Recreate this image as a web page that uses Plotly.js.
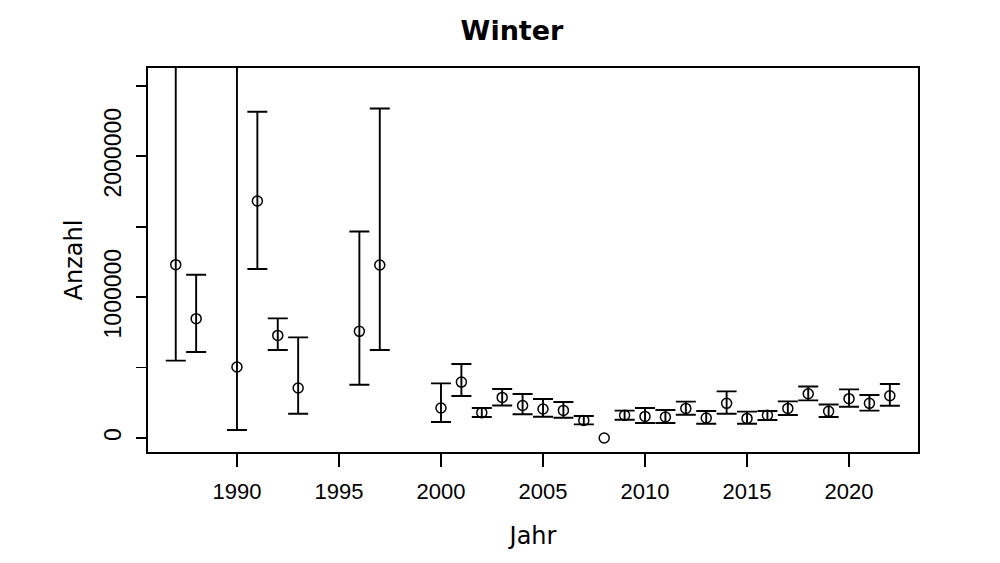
<!DOCTYPE html>
<html>
<head>
<meta charset="utf-8">
<script src="https://cdn.plot.ly/plotly-3.0.1.min.js"></script>
<style>html,body{margin:0;padding:0;background:#fff;}#chart{width:1000px;height:563px;}</style>
</head>
<body>
<div id="chart"></div>
<script>
// Data (Anzahl per winter)
const years = [1987,1988,1990,1991,1992,1993,1996,1997,2000,2001,2002,2003,2004,2005,2006,2007,2008,2009,2010,2011,2012,2013,2014,2015,2016,2017,2018,2019,2020,2021,2022];
const values = [1230000,847000,504000,1682000,728000,355000,757000,1228000,213000,397000,180000,288000,231000,206000,196000,125000,0,161000,153000,149000,210000,142000,246000,139000,161000,210000,314000,189000,279000,246000,300000];
const upper = [2760000,1159000,4400000,2316000,849000,714000,1466000,2339000,388000,525000,213000,348000,312000,277000,255000,156000,0,194000,213000,199000,258000,192000,331000,187000,192000,260000,366000,238000,345000,305000,383000];
const lower = [549000,610000,57000,1199000,625000,172000,378000,625000,114000,298000,149000,231000,168000,151000,144000,97000,0,130000,106000,106000,165000,101000,172000,101000,128000,163000,267000,149000,222000,194000,229000];
const xTicks = [1990,1995,2000,2005,2010,2015,2020];
const yTicks = [0,500000,1000000,1500000,2000000,2500000];
const yTickText = ["0","","1000000","","2000000",""];

// error bars only where the interval has non-zero length
const idx = years.map((_,i)=>i).filter(i => upper[i] > lower[i]);

const errTrace = {
  x: idx.map(i=>years[i]), y: idx.map(i=>values[i]),
  type: 'scatter', mode: 'markers',
  marker: {size: 1, opacity: 0, color: '#000'},
  error_y: {type: 'data', symmetric: false,
            array: idx.map(i=>upper[i]-values[i]),
            arrayminus: idx.map(i=>values[i]-lower[i]),
            color: '#000', thickness: 1.9, width: 10},
  hoverinfo: 'skip'
};

const pointTrace = {
  x: years, y: values, type: 'scatter', mode: 'markers',
  marker: {symbol: 'circle-open', size: 10, color: '#000', line: {width: 1.5, color: '#000'}},
  cliponaxis: true, hoverinfo: 'x+y'
};

const layout = {
  width: 1000, height: 563,
  margin: {l:148, r:82, t:68, b:111, pad:0},
  paper_bgcolor: '#fff', plot_bgcolor: '#fff',
  showlegend: false,
  title: {text: '<b>Winter</b>', x: 0.512, xref: 'container', xanchor: 'center',
          y: 0.945, yref: 'container', yanchor: 'middle',
          font: {family: 'DejaVu Sans', size: 27, color: '#000'}},
  xaxis: {
    range: [1985.64, 2023.38], tickvals: xTicks, ticktext: xTicks.map(String),
    ticks: 'outside', ticklen: 13, tickwidth: 1.9, tickcolor: '#000',
    showgrid: false, zeroline: false,
    showline: true, mirror: true, linecolor: '#000', linewidth: 1.9,
    tickfont: {family: 'Liberation Sans, Arial, sans-serif', size: 22, color: '#000'},
    ticklabelstandoff: 6,
    title: {text: 'Jahr', font: {family: 'DejaVu Sans', size: 24, color: '#000'}, standoff: 24}
  },
  yaxis: {
    range: [-99400, 2626000], tickvals: yTicks, ticktext: yTickText,
    tickangle: -90,
    ticks: 'outside', ticklen: 10, tickwidth: 1.9, tickcolor: '#000',
    showgrid: false, zeroline: false,
    showline: true, mirror: true, linecolor: '#000', linewidth: 1.9,
    tickfont: {family: 'Liberation Sans, Arial, sans-serif', size: 23, color: '#000'},
    ticklabelstandoff: 6,
    title: {text: 'Anzahl', font: {family: 'DejaVu Sans', size: 24, color: '#000'}, standoff: 10}
  }
};

Plotly.newPlot('chart', [errTrace, pointTrace], layout, {displayModeBar: false, staticPlot: true});
</script>
</body>
</html>
